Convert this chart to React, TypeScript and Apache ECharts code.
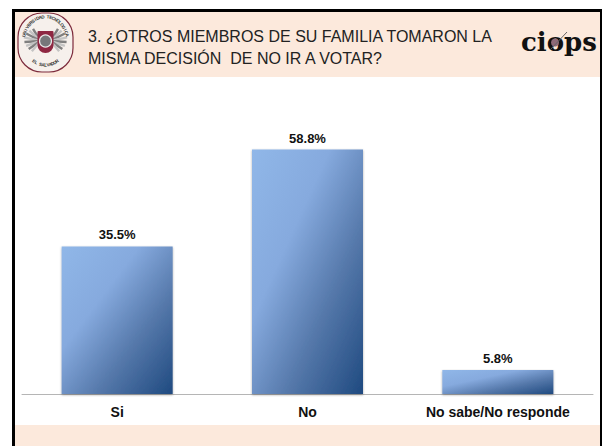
import React, { useEffect, useRef } from "react";
import * as echarts from "echarts";

const categories = ["Si", "No", "No sabe/No responde"];
const values = [35.5, 58.8, 5.8];
const titleLines = ["3. ¿OTROS MIEMBROS DE SU FAMILIA TOMARON LA", "MISMA DECISIÓN  DE NO IR A VOTAR?"];
const logoText = "ciops";
const sealTop = "UNIVERSIDAD TECNOLOGICA";
const sealBottom = "EL SALVADOR";

export default function App() {
  const ref = useRef<HTMLDivElement>(null);
  useEffect(() => {
    document.body.style.margin = "0";
    document.body.style.background = "#fff";
    const chart = echarts.init(ref.current!, null, { renderer: "svg" });
    const font = "'Liberation Sans', Arial, sans-serif";
    const cx = 45.5;
    const cy = 42;
    // one wing of the seal: feathers radiating out and up from the shield
    const wing = (dir: number) =>
      [0, 1, 2, 3, 4, 5, 6, 7].map((i) => {
        const a = 0.55 + i * 0.27;
        const len = 17 - Math.abs(i - 3) * 0.9;
        const x0 = cx + dir * 5;
        const y0 = 41;
        return {
          type: "line",
          z: 5,
          shape: { x1: x0, y1: y0, x2: x0 + dir * len * Math.sin(a), y2: y0 - len * Math.cos(a) },
          style: { stroke: i % 2 ? "#c4c4c4" : "#808080", lineWidth: 2.4 },
        };
      });
    // letters set along the ring of the seal
    const ringText = (text: string, from: number, to: number, r: number, bottom: boolean, size: number) =>
      text.split("").map((ch, i) => {
        const a = from + ((to - from) * i) / Math.max(1, text.length - 1);
        return {
          type: "text",
          z: 7,
          x: cx + r * Math.sin(a) * 0.93,
          y: cy - r * Math.cos(a) * 1.05,
          rotation: bottom ? Math.PI - a : -a,
          style: { text: ch, font: "bold " + size + "px " + font, fill: "#333", align: "center", verticalAlign: "middle" },
        };
      });
    chart.setOption({
      animation: false,
      backgroundColor: "#ffffff",
      grid: { left: 22, right: 9, top: 103, bottom: 52, containLabel: false },
      xAxis: {
        type: "category",
        data: categories,
        axisLine: { show: true, lineStyle: { color: "#b5b5b5", width: 1 } },
        axisTick: { show: false },
        axisLabel: { color: "#111", fontFamily: font, fontWeight: "bold", fontSize: 14, margin: 11 },
      },
      yAxis: { type: "value", min: 0, max: 70, show: false, splitLine: { show: false } },
      series: [
        {
          type: "bar",
          data: values,
          barWidth: 111,
          z: 3,
          itemStyle: {
            color: new echarts.graphic.LinearGradient(0, 0, 1, 1, [
              { offset: 0, color: "#90b7e8" },
              { offset: 0.35, color: "#86aade" },
              { offset: 0.66, color: "#5578aa" },
              { offset: 1, color: "#1f4a80" },
            ]),
            shadowColor: "rgba(60,60,60,0.45)",
            shadowBlur: 2,
            shadowOffsetY: 1,
          },
          label: {
            show: true,
            position: "top",
            distance: 5,
            formatter: (p: any) => p.value.toFixed(1) + "%",
            color: "#111",
            fontFamily: font,
            fontWeight: "bold",
            fontSize: 13,
          },
        },
      ],
      graphic: [
        { type: "rect", z: 1, shape: { x: 14, y: 11, width: 586, height: 66 }, style: { fill: "#fce9dc" } },
        { type: "rect", z: 1, shape: { x: 14, y: 425, width: 586, height: 21 }, style: { fill: "#fce9dc" } },
        { type: "rect", z: 2, shape: { x: 12, y: 9, width: 590, height: 3 }, style: { fill: "#000" } },
        { type: "rect", z: 2, shape: { x: 12, y: 9, width: 3, height: 437 }, style: { fill: "#000" } },
        { type: "rect", z: 2, shape: { x: 600, y: 9, width: 2, height: 437 }, style: { fill: "#000" } },
        {
          type: "rect", z: 3,
          shape: { x: 18, y: 13, width: 55, height: 59, r: 24 },
          style: { fill: "#f6f0ec", stroke: "#7d2b3c", lineWidth: 1.2 },
        },
        ...wing(-1),
        ...wing(1),
        { type: "rect", z: 6, shape: { x: 37.5, y: 31, width: 16, height: 22, r: [1, 1, 8, 8] }, style: { fill: "#8e2742" } },
        { type: "circle", z: 7, shape: { cx: 45.5, cy: 41, r: 6 }, style: { fill: "#77777a", stroke: "#e8e8e8", lineWidth: 1.2 } },
        ...ringText(sealTop, -1.3, 1.3, 24, false, 4.5),
        ...ringText(sealBottom, Math.PI + 0.6, Math.PI - 0.6, 22, true, 4.5),
        { type: "text", z: 3, x: 88, y: 36, style: { text: titleLines[0], font: "16px " + font, fill: "#222", verticalAlign: "middle" } },
        { type: "text", z: 3, x: 88, y: 58, style: { text: titleLines[1], font: "16px " + font, fill: "#222", verticalAlign: "middle" } },
        { type: "text", z: 3, x: 521, y: 42, style: { text: logoText, font: "bold 26px 'DejaVu Serif', serif", fill: "#111", verticalAlign: "middle" } },
        { type: "circle", z: 4, shape: { cx: 555, cy: 42.5, r: 4 }, style: { fill: "#8f6a78" } },
        { type: "line", z: 4, shape: { x1: 550, y1: 50, x2: 567, y2: 32 }, style: { stroke: "#666", lineWidth: 1 } },
      ],
    });
    return () => chart.dispose();
  }, []);
  return <div ref={ref} style={{ width: 602, height: 446 }} />;
}
